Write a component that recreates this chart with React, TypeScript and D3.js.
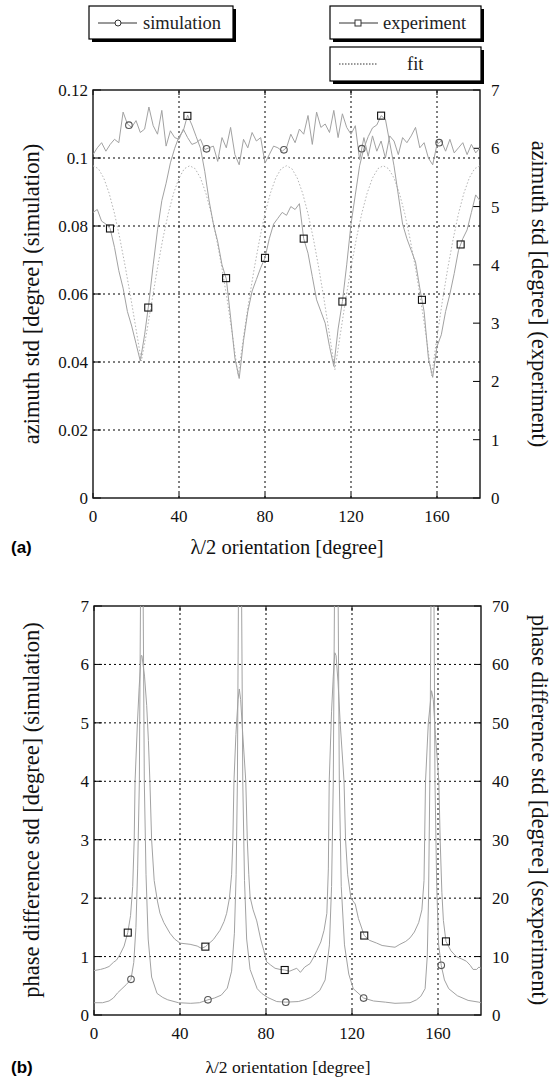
import * as d3 from 'd3'

// ---------- panel (a): azimuth std ----------
const ANG_A = d3.range(0, 181, 2)
const simA = [
  0.1010, 0.1030, 0.1045, 0.1020, 0.1040, 0.1055, 0.1045, 0.1135, 0.1100, 0.1090,
  0.1110, 0.1075, 0.1085, 0.1150, 0.1095, 0.1070, 0.1140, 0.1035, 0.1080, 0.1060,
  0.1055, 0.1085, 0.1060, 0.1040, 0.1045, 0.1055, 0.1025, 0.1030, 0.1035, 0.0990,
  0.1060, 0.1030, 0.1090, 0.1010, 0.0980, 0.1055, 0.1030, 0.1075, 0.1050, 0.1060,
  0.0985, 0.1010, 0.1035, 0.1030, 0.1020, 0.1030, 0.1070, 0.1045, 0.1085, 0.1070,
  0.1125, 0.1040, 0.1135, 0.1090, 0.1100, 0.1075, 0.1140, 0.1060, 0.1130, 0.1090,
  0.1070, 0.1095, 0.0995, 0.1060, 0.1005, 0.1065, 0.1020, 0.1050, 0.1000, 0.1065,
  0.1050, 0.1010, 0.1060, 0.1045, 0.1065, 0.1090, 0.1030, 0.1045, 0.1000, 0.0980,
  0.1040, 0.1050, 0.1020, 0.1055, 0.1015, 0.1030, 0.1045, 0.1010, 0.1040, 0.1015,
  0.1030,
]
const expA = [
  4.90, 4.95, 4.75, 4.70, 4.62, 4.30, 3.90, 3.60, 3.20, 2.95,
  2.65, 2.35, 2.80, 3.35, 4.00, 4.60, 5.10, 5.40, 5.75, 6.00,
  6.20, 6.30, 6.57, 6.40, 6.20, 6.00, 5.60, 5.10, 4.70, 4.40,
  4.00, 3.76, 3.10, 2.40, 2.05, 2.70, 3.20, 3.55, 3.75, 3.95,
  4.12, 4.45, 4.70, 4.80, 4.90, 4.85, 5.00, 4.95, 5.05, 4.45,
  4.20, 3.80, 3.40, 3.20, 3.00, 2.60, 2.26, 2.90, 3.37, 4.00,
  4.70, 5.20, 5.70, 6.00, 6.20, 6.35, 6.40, 6.56, 6.50, 6.10,
  5.70, 5.20, 4.70, 4.45, 4.25, 4.05, 3.60, 3.20, 2.40, 2.07,
  2.60, 2.80, 3.20, 3.50, 3.85, 4.25, 4.45, 4.60, 4.90, 5.20,
  5.10,
]
const ANG_FIT = d3.range(0, 181, 2.5)
const fitA = [
  5.70, 5.65, 5.49, 5.23, 4.88, 4.45, 3.97, 3.45, 2.90, 2.35,
  2.85, 3.40, 3.95, 4.45, 4.88, 5.23, 5.49, 5.65, 5.70, 5.65,
  5.49, 5.23, 4.88, 4.44, 3.94, 3.38, 2.76, 2.10, 2.76, 3.38,
  3.94, 4.44, 4.88, 5.23, 5.49, 5.65, 5.70, 5.65, 5.49, 5.23,
  4.88, 4.45, 3.95, 3.40, 2.80, 2.20, 2.80, 3.40, 3.95, 4.45,
  4.88, 5.23, 5.49, 5.65, 5.70, 5.65, 5.49, 5.23, 4.88, 4.44,
  3.94, 3.38, 2.76, 2.10, 2.76, 3.38, 3.94, 4.44, 4.88, 5.23,
  5.49, 5.65, 5.70,
]
const simMarksA = [16.7, 52.8, 88.8, 125, 161]
const expMarksA = [7.9, 25.7, 43.9, 61.9, 80, 98, 116, 134, 153, 171]

// ---------- panel (b): phase difference std ----------
const simBX = [
  0, 4, 7, 9, 11, 13, 15, 17.2, 18.5, 19.5, 20.3, 21.1, 21.7, 22.3, 22.8, 23.4, 24.2, 25.2, 26.8, 29.3,
  32, 34.3, 39.3, 45, 49, 53, 56, 59.2, 62, 64, 65.3, 66.1, 66.7, 67.3, 67.9, 68.5, 69.2, 70, 71, 72.6,
  75.9, 78, 80.8, 85, 89.2, 95, 98, 100.8, 105, 107.5, 109.5, 110.5, 111.3, 112, 112.7, 113.4, 114.1, 115, 116.5, 118.5,
  120.6, 125.4, 130, 135.5, 140, 147, 150, 152, 154, 155, 155.6, 156.2, 156.9, 157.4, 158, 158.6, 159.4, 160.3, 161.5, 163,
  165, 169, 174, 179, 180,
]
const simBY = [
  0.21, 0.21, 0.24, 0.29, 0.38, 0.45, 0.52, 0.61, 0.9, 1.5, 2.5, 4, 7.5, 12, 7.5, 4, 2.4, 1.3, 0.65, 0.37,
  0.3, 0.26, 0.21, 0.2, 0.21, 0.26, 0.29, 0.34, 0.46, 0.75, 1.4, 2.4, 4, 8, 12, 8, 4, 2.3, 1.3, 0.78,
  0.45, 0.37, 0.3, 0.23, 0.22, 0.23, 0.26, 0.3, 0.42, 0.6, 1.2, 2.2, 4, 8, 12, 8, 4, 2.2, 1.2, 0.7,
  0.45, 0.29, 0.24, 0.22, 0.2, 0.21, 0.26, 0.32, 0.45, 1.0, 2, 4, 8, 12, 8, 4, 2.2, 1.2, 0.85, 0.6,
  0.45, 0.33, 0.25, 0.22, 0.21,
]
const expBX = [
  0, 3, 5, 7, 9, 10.5, 12, 14, 15.7, 17, 18, 18.7, 19.1, 20.2, 21, 21.9, 22.3, 23.5, 24.5, 25.3,
  26, 26.8, 28, 29.5, 30.7, 32.5, 35.3, 37.5, 40, 44.7, 48, 50, 51.8, 55.5, 58.6, 60.5, 61.7, 63, 64, 64.6,
  65.1, 66, 67, 67.6, 68.2, 69.2, 70.6, 71.3, 72, 72.6, 74, 75.7, 77.5, 79, 80.3, 82, 84.2, 86.5, 88.7, 91,
  94.3, 96, 98, 100.5, 102, 103.6, 105.5, 107, 108.3, 109, 109.4, 110.5, 111.3, 112, 112.6, 113.5, 114.5, 116.3, 117, 118,
  119.5, 121.5, 123, 125.7, 128, 131.5, 134, 137.7, 140, 142.3, 145, 147, 149, 151, 152.5, 153.5, 154.2, 155.5, 157, 157.8,
  158.8, 160.4, 161, 161.8, 162.5, 163.7, 166, 168.5, 171, 173.2, 175, 176.3, 178, 179, 180,
]
const expBY = [
  7.6, 7.8, 8.0, 8.3, 9.0, 9.4, 10.3, 11.8, 14.1, 17, 22, 30, 40, 50, 56, 61.5, 61.5, 58, 53, 47,
  40, 30, 23, 19.5, 17.4, 15.8, 14, 13, 12.3, 12.1, 11.8, 11.4, 11.7, 12.9, 14.5, 16, 17.4, 20, 24, 30,
  40, 48, 54, 55.8, 54, 48, 40, 30, 24, 20.2, 18, 16.1, 13, 11, 9.1, 8.6, 8.0, 7.8, 7.7, 7.5,
  8.0, 7.3, 8.2, 8.8, 9.8, 11.0, 12.5, 14.5, 17.4, 25, 40, 52, 58, 62, 61.5, 57, 50, 40, 30, 24,
  20, 19, 16.5, 13.6, 12.8, 12.3, 11.9, 11.7, 11.6, 12.1, 12.6, 13.2, 14.2, 15.8, 18, 23, 40, 50, 55.5, 54,
  48, 40, 30, 21, 16.2, 12.6, 11, 10, 9.6, 9.2, 8.5, 7.8, 7.8, 8.2, 8,
]
const simMarksB = [17.2, 53, 89.2, 125.4, 161.5]
const expMarksB = [15.7, 51.8, 88.7, 125.7, 163.7]

const X_TICKS = [0, 40, 80, 120, 160]
const A_LEFT_TICKS = [0, 0.02, 0.04, 0.06, 0.08, 0.1, 0.12]
const A_RIGHT_TICKS = [0, 1, 2, 3, 4, 5, 6, 7]
const B_LEFT_TICKS = [0, 1, 2, 3, 4, 5, 6, 7]
const B_RIGHT_TICKS = [0, 10, 20, 30, 40, 50, 60, 70]

const SERIF = "'Liberation Serif', 'DejaVu Serif', serif"
const SANS = "'Liberation Sans', sans-serif"
const LINE = '#a2a2a2'
const serif = (size: number) => ({ fontFamily: SERIF, fontSize: size })

function interp(xs: number[], ys: number[], x: number) {
  const i = Math.max(1, Math.min(xs.length - 1, d3.bisectLeft(xs, x)))
  const t = (x - xs[i - 1]) / (xs[i] - xs[i - 1])
  return ys[i - 1] + t * (ys[i] - ys[i - 1])
}

function Square({ x, y }: { x: number; y: number }) {
  return <rect x={x - 3.5} y={y - 3.5} width={7} height={7} fill="none" stroke="#111" strokeWidth={1.1} />
}
function Circle({ x, y }: { x: number; y: number }) {
  return <circle cx={x} cy={y} r={3.3} fill="none" stroke="#555" strokeWidth={1.1} />
}

function Frame({ x, yl, yr, leftTicks, rightTicks, leftFmt, id }: any) {
  const [x0, x1] = x.range()
  const [y0, y1] = yl.range()
  return (
    <g>
      {/* grid */}
      {leftTicks.slice(1, -1).map((t: number) => (
        <line key={'h' + t} x1={x0} x2={x1} y1={yl(t)} y2={yl(t)} stroke="#000" strokeDasharray="2,3" />
      ))}
      {X_TICKS.slice(1).map((t) => (
        <line key={'v' + t} x1={x(t)} x2={x(t)} y1={y0} y2={y1} stroke="#000" strokeDasharray="2,3" />
      ))}
      {/* ticks */}
      {leftTicks.map((t: number) => (
        <line key={'lt' + t} x1={x0} x2={x0 + 8} y1={yl(t)} y2={yl(t)} stroke="#000" />
      ))}
      {rightTicks.map((t: number) => (
        <line key={'rt' + t} x1={x1 - 7} x2={x1} y1={yr(t)} y2={yr(t)} stroke="#000" />
      ))}
      {X_TICKS.map((t) => (
        <g key={'xt' + t}>
          <line x1={x(t)} x2={x(t)} y1={y0} y2={y0 - 5} stroke="#000" />
          <line x1={x(t)} x2={x(t)} y1={y1} y2={y1 + 5} stroke="#000" />
        </g>
      ))}
      <rect x={x0} y={y1} width={x1 - x0} height={y0 - y1} fill="none" stroke="#111" strokeWidth={1.4} />
      {/* labels */}
      {leftTicks.map((t: number) => (
        <text key={'ll' + t} x={x0 - 5} y={yl(t)} dy="0.35em" textAnchor="end" style={serif(17)} fill="#111">{leftFmt(t)}</text>
      ))}
      {rightTicks.map((t: number) => (
        <text key={'rl' + t} x={x1 + 11} y={yr(t)} dy="0.35em" style={serif(17)} fill="#111">{t}</text>
      ))}
      {X_TICKS.map((t) => (
        <text key={'xl' + t} x={x(t)} y={y0 + 18} dy="0.35em" textAnchor="middle" style={serif(17)} fill="#111">{t}</text>
      ))}
      <clipPath id={id}>
        <rect x={x0} y={y1} width={x1 - x0} height={y0 - y1} />
      </clipPath>
    </g>
  )
}

function LegendBox({ x, y, w, h }: { x: number; y: number; w: number; h: number }) {
  return (
    <g>
      <rect x={x + 3} y={y + 3} width={w} height={h} fill="#000" />
      <rect x={x} y={y} width={w} height={h} fill="#fff" stroke="#000" strokeWidth={1.2} />
    </g>
  )
}

export default function App() {
  // panel (a)
  const xA = d3.scaleLinear().domain([0, 180]).range([93, 480])
  const yAL = d3.scaleLinear().domain([0, 0.12]).range([498, 90])
  const yAR = d3.scaleLinear().domain([0, 7]).range([498, 90])
  // panel (b)
  const xB = d3.scaleLinear().domain([0, 180]).range([94, 481])
  const yBL = d3.scaleLinear().domain([0, 7]).range([1015, 606])
  const yBR = d3.scaleLinear().domain([0, 70]).range([1015, 606])

  const lineSimA = d3.line<number>().x((_, i) => xA(ANG_A[i])).y((d) => yAL(d))
  const lineExpA = d3.line<number>().x((_, i) => xA(ANG_A[i])).y((d) => yAR(d))
  const lineFitA = d3.line<number>().x((_, i) => xA(ANG_FIT[i])).y((d) => yAR(d))
  const lineSimB = d3.line<number>().x((_, i) => xB(simBX[i])).y((d) => yBL(d))
  const lineExpB = d3.line<number>().x((_, i) => xB(expBX[i])).y((d) => yBR(d))

  return (
    <svg width={558} height={1080} style={{ position: 'absolute', left: 0, top: 0, background: '#fff' }}>
      {/* legends */}
      <LegendBox x={89} y={6} w={144} h={33} />
      <line x1={98} x2={137} y1={23} y2={23} stroke="#333" />
      <circle cx={118} cy={23} r={3} fill="#fff" stroke="#333" />
      <text x={143} y={23} dy="0.33em" style={serif(18.5)} fill="#222">simulation</text>

      <LegendBox x={330} y={6} w={151} h={33} />
      <line x1={339} x2={378} y1={23} y2={23} stroke="#333" />
      <rect x={355} y={20} width={6} height={6} fill="#fff" stroke="#333" />
      <text x={383} y={23} dy="0.33em" style={serif(18.5)} fill="#222">experiment</text>

      <LegendBox x={330} y={47} w={151} h={34} />
      <line x1={339} x2={378} y1={64} y2={64} stroke="#333" strokeDasharray="1.5,1.5" />
      <text x={407} y={64} dy="0.33em" style={serif(18.5)} fill="#222">fit</text>

      {/* ---- panel (a) ---- */}
      <Frame x={xA} yl={yAL} yr={yAR} leftTicks={A_LEFT_TICKS} rightTicks={A_RIGHT_TICKS}
        leftFmt={(t: number) => (t === 0 ? '0' : String(+t.toFixed(2)))} id="clipA" />
      <g clipPath="url(#clipA)" fill="none">
        <path d={lineFitA(fitA) || ''} stroke="#b4b4b4" strokeDasharray="1.5,2" />
        <path d={lineExpA(expA) || ''} stroke={LINE} />
        <path d={lineSimA(simA) || ''} stroke={LINE} />
      </g>
      {simMarksA.map((a) => <Circle key={'ca' + a} x={xA(a)} y={yAL(interp(ANG_A, simA, a))} />)}
      {expMarksA.map((a) => <Square key={'sa' + a} x={xA(a)} y={yAR(interp(ANG_A, expA, a))} />)}

      <text transform="translate(31,294) rotate(-90)" textAnchor="middle" dy="0.35em" style={serif(22.5)} fill="#111">azimuth std [degree] (simulation)</text>
      <text transform="translate(540,294) rotate(90)" textAnchor="middle" dy="0.35em" style={serif(22.5)} fill="#111">azimuth std [degree] (experiment)</text>
      <text x={287} y={554} textAnchor="middle" style={serif(20.5)} fill="#111">λ/2 orientation [degree]</text>
      <text x={11} y={553} style={{ fontFamily: SANS, fontWeight: 'bold', fontSize: 17 }}>(a)</text>

      {/* ---- panel (b) ---- */}
      <Frame x={xB} yl={yBL} yr={yBR} leftTicks={B_LEFT_TICKS} rightTicks={B_RIGHT_TICKS}
        leftFmt={(t: number) => String(t)} id="clipB" />
      <g clipPath="url(#clipB)" fill="none">
        <path d={lineExpB(expBY) || ''} stroke={LINE} />
        <path d={lineSimB(simBY) || ''} stroke={LINE} />
      </g>
      {simMarksB.map((a) => <Circle key={'cb' + a} x={xB(a)} y={yBL(interp(simBX, simBY, a))} />)}
      {expMarksB.map((a) => <Square key={'sb' + a} x={xB(a)} y={yBR(interp(expBX, expBY, a))} />)}

      <text transform="translate(31,810) rotate(-90)" textAnchor="middle" dy="0.35em" style={serif(22.5)} fill="#111">phase difference std [degree] (simulation)</text>
      <text transform="translate(540,810) rotate(90)" textAnchor="middle" dy="0.35em" style={serif(22.5)} fill="#111">phase difference std [degree] (sexperiment)</text>
      <text x={288} y={1073} textAnchor="middle" style={serif(17.5)} fill="#111">λ/2 orientation [degree]</text>
      <text x={11} y={1073} style={{ fontFamily: SANS, fontWeight: 'bold', fontSize: 17 }}>(b)</text>
    </svg>
  )
}
